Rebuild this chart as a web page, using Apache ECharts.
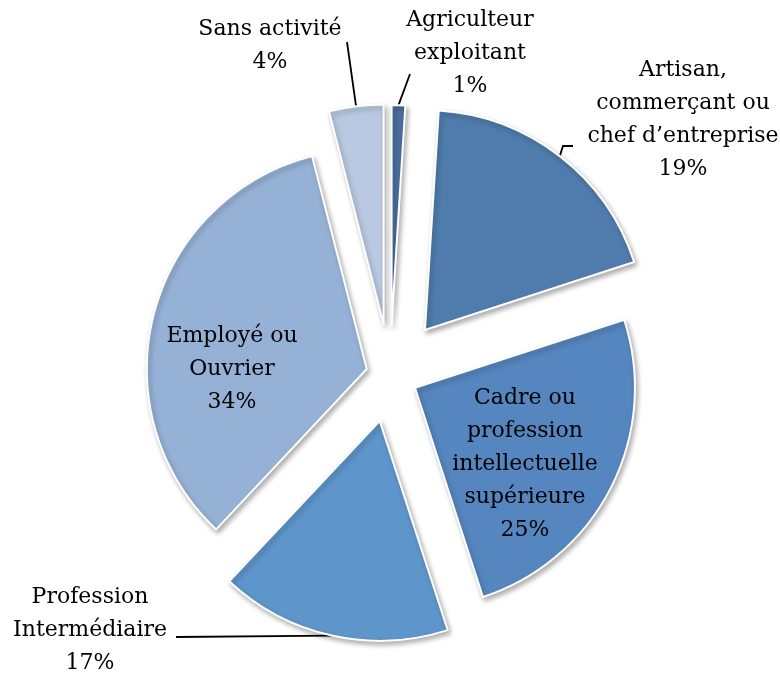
<!DOCTYPE html>
<html>
<head>
<meta charset="utf-8">
<script src="https://cdn.jsdelivr.net/npm/echarts@6/dist/echarts.min.js"></script>
<style>html,body{margin:0;padding:0;background:#fff;}#c{width:780px;height:677px;}</style>
</head>
<body>
<div id="c"></div>
<script>
// ---- data ----
var categories = ['Agriculteur\nexploitant', 'Artisan,\ncommerçant ou\nchef d\u2019entreprise', 'Cadre ou\nprofession\nintellectuelle\nsupérieure', 'Profession\nIntermédiaire', 'Employé ou\nOuvrier', 'Sans activité'];
var values = [1, 19, 25, 17, 34, 4];
// ---- style ----
var colors = ['#4a6e9d', '#4f7cac', '#5586bf', '#5e95cb', '#95b1d6', '#b9c9e2'];
var explode = [50, 57, 28, 47, 24, 51];
var pieCenter = [390, 375];
var pieRadius = 220;
// label anchor (center of text block) and leader line bend points
var labelPos = [[470, 53], [683, 120], [525, 464], [90, 630], [232, 369], [270, 46]];
var leader = [[[410, 74]], [[563, 146], [573, 146]], null, [[176, 637]], null, [[347, 42]]];
var insideLabel = [false, false, true, false, true, false];

var total = values.reduce(function (a, b) { return a + b; }, 0);
var series = [];
var cum = 0;
values.forEach(function (v, i) {
  var mid = (cum + v / 2) / total * 2 * Math.PI; // clockwise from top
  cum += v;
  var cx = pieCenter[0] + explode[i] * Math.sin(mid);
  var cy = pieCenter[1] - explode[i] * Math.cos(mid);
  var data = values.map(function (val, j) {
    if (j !== i) {
      return {
        value: val, name: categories[j],
        itemStyle: { color: 'rgba(0,0,0,0)', borderWidth: 0, shadowBlur: 0 },
        label: { show: false }, labelLine: { show: false }
      };
    }
    return {
      value: val, name: categories[j],
      itemStyle: { color: colors[j] },
      label: { show: true, position: insideLabel[j] ? 'inside' : 'outside' },
      labelLine: { show: !insideLabel[j] }
    };
  });
  series.push({
    type: 'pie',
    silent: true,
    animation: false,
    startAngle: 90,
    clockwise: true,
    center: [cx, cy],
    radius: [0, pieRadius],
    avoidLabelOverlap: false,
    emphasis: { disabled: true },
    itemStyle: {
      borderColor: '#ffffff', borderWidth: 2,
      shadowBlur: 5, shadowColor: 'rgba(0,0,0,0.3)', shadowOffsetX: 2, shadowOffsetY: 3
    },
    label: {
      fontFamily: 'DejaVu Serif', fontSize: 22, color: '#000', lineHeight: 33,
      align: 'center',
      formatter: function (p) { return p.name + '\n' + Math.round(p.percent) + '%'; }
    },
    labelLine: { length: 10, length2: 10, lineStyle: { color: '#000', width: 1.8 } },
    labelLayout: (function (idx) {
      return function (params) {
        if (params.dataIndex !== idx) return {};
        var out = { x: labelPos[idx][0], y: labelPos[idx][1], align: 'center', verticalAlign: 'middle' };
        if (leader[idx] && params.labelLinePoints) {
          out.labelLinePoints = [params.labelLinePoints[0]].concat(leader[idx]);
        }
        return out;
      };
    })(i),
    data: data
  });
});

var chart = echarts.init(document.getElementById('c'), null, { renderer: 'canvas' });
chart.setOption({ backgroundColor: '#fff', series: series });
</script>
</body>
</html>
